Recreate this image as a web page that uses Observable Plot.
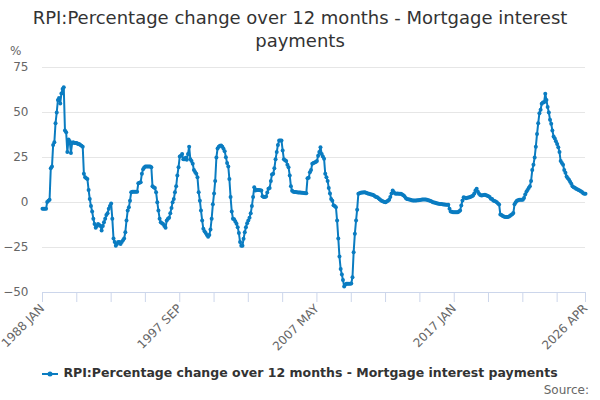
<!DOCTYPE html>
<html><head><meta charset="utf-8">
<script src="https://cdn.jsdelivr.net/npm/d3@7"></script>
<script src="https://cdn.jsdelivr.net/npm/@observablehq/plot@0.6"></script>
<style>
body{margin:0;width:600px;height:400px;position:relative;overflow:hidden;background:#fff;font-family:"DejaVu Sans",sans-serif}
#chart{position:absolute;top:0;left:0}
#title{position:absolute;top:6px;left:0;width:600px;text-align:center;font-size:18px;line-height:23px;color:#333}
#unit{position:absolute;top:44px;left:10px;font-size:12px;color:#666}
#legend{position:absolute;top:365px;left:0;width:600px;text-align:center;font-size:12.5px;font-weight:bold;color:#333;white-space:nowrap}
#legend svg{vertical-align:middle;margin-right:5px}
#source{position:absolute;top:383px;right:11px;font-size:12px;color:#666}
</style></head>
<body>
<div id="chart"></div>
<div id="title">RPI:Percentage change over 12 months - Mortgage interest<br>payments</div>
<div id="unit">%</div>
<div id="legend"></div>
<div id="source">Source:</div>
<script>
const seriesName = "RPI:Percentage change over 12 months - Mortgage interest payments";
const startYear = 1988;
const monthNames = ["JAN","FEB","MAR","APR","MAY","JUN","JUL","AUG","SEP","OCT","NOV","DEC"];
const yTicks = [-50, -25, 0, 25, 50, 75];
const xTickMonths = [0, 29, 58, 87, 116, 145, 174, 203, 232, 261, 290, 319, 348, 377, 406, 435, 459];
const xLabelMonths = [0, 116, 232, 348, 459];
// monthly values, Jan 1988 .. Apr 2026 (one line per year)
const values = [
  -3.5, -3.5, -3.5, -3.5, 0.3, 1, 1.5, 19, 20, 32, 33.5, 44,
  50, 57, 58, 55, 60.5, 63, 64, 40, 39, 28, 35, 34,
  27.5, 33, 33.5, 33, 33, 33, 32.5, 32.5, 32, 31.5, 31, 16,
  14, 13.5, 13, 7, 2, -2, -5, -9, -12, -14, -13, -12,
  -12.5, -13, -15.5, -13, -11, -9, -7, -6, -3.5, -2, -0.5, -9,
  -20, -22, -24, -23, -22, -22, -23, -22, -21, -20, -16.5, -10,
  -4.5, -2.6, 1, 5.7, 6, 6, 6, 6, 6, 10.7, 11, 11.3,
  16, 18.5, 19.5, 20, 20, 20, 20, 20, 19.6, 9, 8.5, 8,
  5.7, 0.2, -4.4, -9, -11, -11.5, -12, -13, -14, -10, -9, -8.5,
  -6, -3, 0.2, 2, 5.7, 9, 15, 19.6, 25.5, 26, 27, 24,
  24, 24.8, 23.7, 27, 31, 24, 23, 21.5, 18, 17, 16, 14,
  5.7, 1, -4.4, -10, -14.6, -16, -17, -18, -19, -18, -15, -9,
  -1, 5, 12, 25, 30, 31, 31.5, 31.7, 31, 29.8, 28.5, 25.2,
  22, 20, 13, 3, -5, -9, -9.3, -10.5, -11.8, -13.7, -17, -22,
  -24, -24, -20.2, -16.5, -13.7, -11.5, -10, -8.5, -6, -2, 3, 8.5,
  6.7, 7, 7, 7, 6.8, 6.7, 3.5, 3, 3.1, 3.3, 5.5, 7.6,
  8, 12, 15.6, 16, 19, 24, 28, 32, 34.4, 34.4, 34.4, 28.9,
  24, 23.5, 23, 21, 19.6, 15, 9, 6.5, 6, 5.8, 5.8, 5.7,
  5.6, 5.6, 5.5, 5.4, 5.4, 5.3, 5.2, 5.2, 13.5, 13.7, 16.8, 18,
  21.5, 22, 22.2, 22.5, 23, 26, 28, 30.7, 27, 25.6, 24.3, 16,
  14, 12, 8, 5, 2, 1, -1.5, -2, -2.6, -10, -20, -30,
  -37, -40, -43, -46.7, -45.5, -45.2, -45.2, -45.2, -45.2, -45, -41.5, -27.6,
  -17.4, -10, -4, 4.8, 5.2, 5.4, 5.5, 5.6, 5.7, 5.5, 5.3, 5,
  4.8, 4.6, 4.5, 4.3, 4, 3.5, 3, 2.9, 2.4, 1.8, 1.2, 0.8,
  0.5, 0.3, 0.2, 0.5, 1, 1.5, 3, 5, 6.7, 5.7, 5, 4.8,
  5, 4.8, 4.8, 4.8, 4.5, 4, 3.5, 2.5, 2, 1.8, 1.7, 1.5,
  1.3, 1.1, 1.1, 1.1, 1.1, 1.2, 1.3, 1.4, 1.5, 1.6, 1.7, 1.7,
  1.7, 1.5, 1.3, 1.1, 0.8, 0.5, 0.2, 0, -0.2, -0.4, -0.5, -0.7,
  -0.8, -0.9, -1, -1.1, -1.1, -1.2, -1.2, -1.3, -3.5, -5, -5.2, -5.4,
  -5.4, -5.4, -5.4, -5.4, -5, -4.4, -1.7, 1.1, 2.9, 2.6, 2.4, 2.6,
  2.8, 2.9, 3.2, 3.5, 3.9, 5, 6.7, 7.6, 6, 4.8, 4.2, 3.9,
  4, 4.2, 4.3, 4, 3.7, 3.5, 3, 2.1, 2, 1.1, 0.8, 0.5,
  0.2, -0.5, -1.1, -6.7, -7, -7.5, -7.8, -8, -8.1, -8.1, -7.9, -7.5,
  -6.9, -6.5, -5.9, -1, 0.2, 1, 1.3, 1.5, 1.5, 1.5, 1.5, 2.5,
  4.5, 6, 7, 8, 9, 12, 18, 21, 25, 31, 38, 44,
  49.6, 51.5, 54.8, 55.5, 55.7, 60.4, 57, 53, 50, 46, 43.7, 40,
  36.7, 35.5, 34, 32.5, 30.7, 28, 23, 22, 21, 18, 16.5, 14.5,
  13.5, 12.6, 11.5, 10.4, 9, 8.5, 8.2, 7.7, 7.4, 7, 6.7, 6.3,
  5.8, 5.2, 4.8, 4.8
];
const lineColor = "#0a7cc1";

const monthDate = i => new Date(Date.UTC(startYear, i, 1));
const data = values.map((v, i) => ({date: monthDate(i), value: v}));
const labelSet = new Set(xLabelMonths.map(i => +monthDate(i)));
const fmt = d => labelSet.has(+d) ? `${d.getUTCFullYear()} ${monthNames[d.getUTCMonth()]}` : "";

const chart = Plot.plot({
  width: 600, height: 360,
  marginLeft: 42, marginRight: 15, marginTop: 67, marginBottom: 68,
  style: {fontFamily: "DejaVu Sans, sans-serif", fontSize: "12px", color: "#666", background: "transparent"},
  x: {type: "utc", domain: [monthDate(0), monthDate(values.length - 1)]},
  y: {domain: [-50, 75]},
  marks: [
    Plot.ruleY(yTicks.filter(t => t > -50), {stroke: "#e6e6e6"}),
    Plot.ruleY([-50], {stroke: "#ccd6eb"}),
    Plot.axisY({ticks: yTicks, tickSize: 0, tickPadding: 14, label: null, fill: "#666"}),
    Plot.axisX({ticks: xTickMonths.map(monthDate), tickSize: 10, stroke: "#ccd6eb", tickFormat: fmt, tickRotate: -45, tickPadding: 4, label: null, fill: "#666"}),
    Plot.line(data, {x: "date", y: "value", stroke: lineColor, strokeWidth: 2}),
    Plot.dot(data, {x: "date", y: "value", r: 2, fill: lineColor})
  ]
});
document.getElementById("chart").appendChild(chart);

document.getElementById("legend").innerHTML =
  `<svg width="16" height="10"><line x1="0" x2="16" y1="5" y2="5" stroke="${lineColor}" stroke-width="2"/><circle cx="8" cy="5" r="2.5" fill="${lineColor}"/></svg>${seriesName}`;
</script>
</body></html>
